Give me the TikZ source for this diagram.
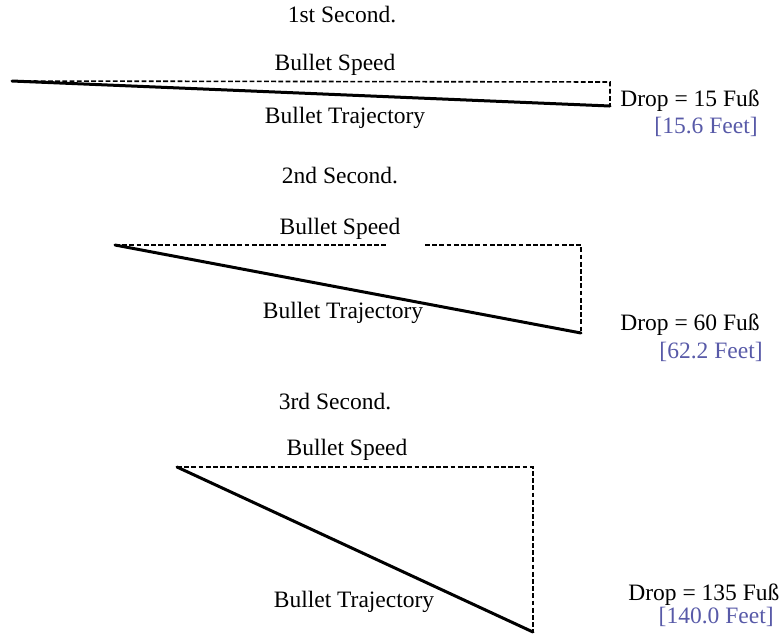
\documentclass[tikz,border=0pt]{standalone}
\usepackage{fontspec}
\setmainfont{Liberation Serif}
\definecolor{feetblue}{RGB}{88,90,168}
\tikzset{
	speedline/.style={line width=.8pt, dash pattern=on 2.4pt off 1.2pt},
	trajline/.style={line width=1.5pt, line cap=round},
	lbl/.style={inner sep=0pt, font=\fontsize{11.75}{14}\selectfont},
	feet/.style={lbl, text=feetblue}
}
\begin{document}
\begin{tikzpicture}[x=.5pt,y=-.5pt]
	\useasboundingbox (0,0) rectangle (781,639);
	\coordinate (s1) at (12,81);
	\coordinate (h1) at (610,82);
	\coordinate (e1) at (610,106);
	\draw [speedline] (s1) -- (h1) -- (e1);
	\draw [trajline] (s1) -- (e1);
	\node [lbl] (t1) at (342,17) {\strut 1st Second.};
	\node [lbl] (v1) at (335,65) {\strut Bullet Speed};
	\node [lbl] (b1) at (345,118) {\strut Bullet Trajectory};
	\node [lbl, anchor=west] (d1) at (620,101) {\strut Drop = 15 Fuß};
	\node [feet, anchor=east] (f1) at (758,128) {\strut [15.6 Feet]};
	\coordinate (s2) at (115,245);
	\coordinate (g2) at (386,245);
	\coordinate (k2) at (425,245);
	\coordinate (h2) at (581,245);
	\coordinate (e2) at (581,333);
	\draw [speedline] (s2) -- (g2);
	\draw [speedline] (k2) -- (h2) -- (e2);
	\draw [trajline] (s2) -- (e2);
	\node [lbl] (t2) at (340,178) {\strut 2nd Second.};
	\node [lbl] (v2) at (340,229) {\strut Bullet Speed};
	\node [lbl] (b2) at (343,313) {\strut Bullet Trajectory};
	\node [lbl, anchor=west] (d2) at (620,325) {\strut Drop = 60 Fuß};
	\node [feet, anchor=east] (f2) at (763,353) {\strut [62.2 Feet]};
	\coordinate (s3) at (177,467);
	\coordinate (h3) at (533,467);
	\coordinate (e3) at (533,632);
	\draw [speedline] (s3) -- (h3) -- (e3);
	\draw [trajline] (s3) -- (e3);
	\node [lbl] (t3) at (335,404) {\strut 3rd Second.};
	\node [lbl] (v3) at (347,450) {\strut Bullet Speed};
	\node [lbl] (b3) at (354,602) {\strut Bullet Trajectory};
	\node [lbl, anchor=west] (d3) at (628,595) {\strut Drop = 135 Fuß};
	\node [feet, anchor=east] (f3) at (774,618) {\strut [140.0 Feet]};
\end{tikzpicture}
\end{document}
